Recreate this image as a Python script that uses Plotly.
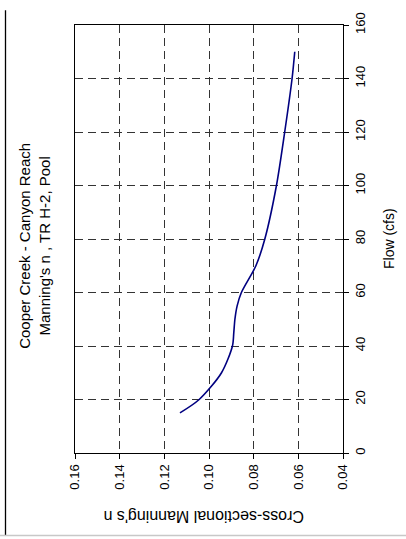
import plotly.graph_objects as go

# Flow (cfs) and the cross-sectional Manning's n computed at each flow
flow_cfs = [15, 20, 30, 40, 45, 50, 55, 60, 70, 80, 100, 120, 140, 150]
mannings_n = [0.1130, 0.1044, 0.0944, 0.0895, 0.0889, 0.0884, 0.0874,
              0.0855, 0.0790, 0.0750, 0.0698, 0.0661, 0.0628, 0.0616]

n_ticks = [0.16, 0.14, 0.12, 0.10, 0.08, 0.06, 0.04]
n_tick_text = ["0.16", "0.14", "0.12", "0.10", "0.08", "0.06", "0.04"]
flow_ticks = [0, 20, 40, 60, 80, 100, 120, 140, 160]

title_lines = ["Cooper Creek - Canyon Reach", "Manning's n , TR H-2, Pool"]
n_label = "Cross-sectional Manning's n"
flow_label = "Flow (cfs)"

FONT = "Arial, Liberation Sans, sans-serif"
W, H = 406, 539
L, R, T, B = 75, 63, 15, 86
PW, PH = W - L - R, H - T - B


def px_x(px):
    return (px - L) / PW


def px_y(py):
    return (H - B - py) / PH


fig = go.Figure()
fig.add_trace(go.Scatter(
    x=mannings_n, y=flow_cfs, mode="lines",
    line=dict(color="#000080", width=1.6, shape="spline", smoothing=0.8),
    hoverinfo="skip", showlegend=False,
))

grid = dict(showgrid=True, gridcolor="#333333", gridwidth=1, griddash="8px,5px")
fig.update_xaxes(
    range=[0.16, 0.04], tickvals=n_ticks, ticktext=n_tick_text,
    tickangle=-90, ticks="outside", ticklen=5, tickcolor="black",
    showline=True, linecolor="black", linewidth=1.3, mirror=True,
    zeroline=False, tickfont=dict(family=FONT, size=13, color="black"),
    **grid,
)
fig.update_yaxes(
    range=[0, 160], tickvals=flow_ticks, side="right",
    tickangle=-90, ticks="outside", ticklen=5, tickcolor="black",
    showline=True, linecolor="black", linewidth=1.3, mirror=True,
    zeroline=False, tickfont=dict(family=FONT, size=13, color="black"),
    **grid,
)

fig.add_annotation(
    text="<br>".join(title_lines), textangle=-90, showarrow=False,
    xref="paper", yref="paper", x=px_x(35), y=px_y(241),
    xanchor="center", yanchor="middle",
    font=dict(family=FONT, size=15, color="black"),
)
fig.add_annotation(
    text=flow_label, textangle=-90, showarrow=False,
    xref="paper", yref="paper", x=px_x(389), y=px_y(234),
    xanchor="center", yanchor="middle",
    font=dict(family=FONT, size=14, color="black"),
)
fig.add_annotation(
    text=n_label, textangle=180, showarrow=False,
    xref="paper", yref="paper", x=px_x(204), y=px_y(518),
    xanchor="center", yanchor="middle",
    font=dict(family=FONT, size=16, color="black"),
)

# page frame: black rule on the left, light rule along the bottom
fig.add_shape(type="line", xref="paper", yref="paper",
              x0=px_x(5.5), x1=px_x(5.5), y0=px_y(0), y1=px_y(537),
              line=dict(color="black", width=1.3))
fig.add_shape(type="line", xref="paper", yref="paper",
              x0=px_x(0), x1=px_x(406), y0=px_y(537.5), y1=px_y(537.5),
              line=dict(color="#c8c8c8", width=1.5))

fig.update_layout(
    width=W, height=H, margin=dict(l=L, r=R, t=T, b=B),
    paper_bgcolor="white", plot_bgcolor="white",
)

fig.write_html("out.html")
